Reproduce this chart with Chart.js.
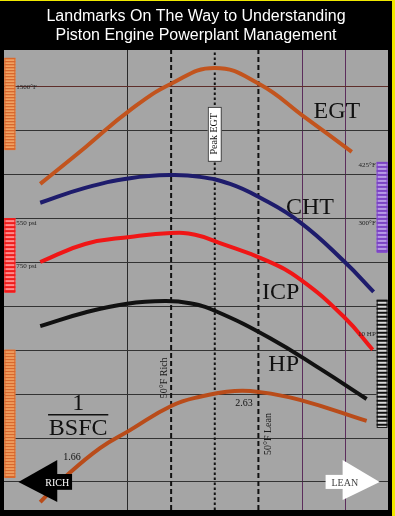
<!DOCTYPE html>
<html>
<head>
<meta charset="utf-8">
<script src="https://cdn.jsdelivr.net/npm/chart.js@4"></script>
<style>
  html, body { margin: 0; padding: 0; background: #000; }
</style>
</head>
<body>
<canvas id="chart" width="395" height="516"></canvas>
<script>
// x = mixture (grid squares from the rich edge, 4 = peak EGT), y = grid squares up from the bottom line
const titleLines = ['Landmarks On The Way to Understanding', 'Piston Engine Powerplant Management'];

const egt  = [[0, 6.79], [1.03, 7.62], [2.06, 8.47], [3.0, 9.07], [4.0, 9.43], [5.01, 9.07], [6.06, 8.31], [7.14, 7.52]];
const cht  = [[0, 6.36], [1.03, 6.70], [2.06, 6.92], [3.0, 6.99], [3.66, 6.95], [4.35, 6.79], [5.01, 6.49], [5.95, 5.92], [6.98, 5.01], [7.64, 4.33]];
const icp  = [[0, 5.01], [1.03, 5.42], [2.06, 5.58], [3.0, 5.67], [3.55, 5.63], [4.12, 5.44], [5.15, 5.06], [5.95, 4.62], [6.98, 3.74], [7.62, 3.01]];
const hp   = [[0, 3.55], [1.03, 3.86], [1.99, 4.06], [2.86, 4.12], [3.43, 4.07], [4.0, 3.90], [5.26, 3.28], [6.41, 2.58], [7.48, 1.89]];
const bsfc = [[0, -0.46], [0.57, 0.11], [1.37, 0.77], [2.06, 1.18], [3.0, 1.73], [3.66, 1.94], [4.46, 2.07], [5.01, 2.05], [5.95, 1.87], [7.48, 1.39]];

// landmark lines: 50°F rich, peak EGT, 50°F lean
const landmarkX = [3, 4, 5];
const landmarkNames = ['50°F Rich', 'Peak EGT', '50°F Lean'];

// values printed on the 1/BSFC curve
const bsfcMarks = [[0.73, 0.55, '1.66'], [4.67, 1.80, '2.63']];

// curve names and where they sit
const curveNames = [['EGT', 6.80, 8.43], ['CHT', 6.18, 6.24], ['ICP', 5.51, 4.31], ['HP', 5.58, 2.67]];

// gauge strip labels
const leftGaugeLabels = [['1500°F', 9.0], ['550 psi', 5.90], ['750 psi', 4.92]];
const rightGaugeLabels = [['425°F', 7.22], ['300°F', 5.90], ['10 HP', 3.37]];

const pts = arr => arr.map(p => ({ x: p[0], y: p[1] }));

function curve(label, data, color) {
  return {
    label, data: pts(data), borderColor: color, borderWidth: 4,
    pointRadius: 0, fill: false, tension: 0.45
  };
}

function landmark(x, dash) {
  return {
    label: 'mark', data: [{ x, y: -0.64 }, { x, y: 9.84 }], borderColor: '#111',
    borderWidth: 2, borderDash: dash, pointRadius: 0, fill: false
  };
}

const near = (v, n) => Math.abs(v - n) < 1e-6;

const decorations = {
  id: 'decorations',
  beforeDraw(chart) {
    const { ctx, chartArea: a, width, height } = chart;
    ctx.save();
    ctx.fillStyle = '#000';
    ctx.fillRect(0, 0, width, height);
    ctx.fillStyle = '#f0e800';
    ctx.fillRect(0, 0, width, 1);
    ctx.fillRect(width - 3, 0, 3, height);
    ctx.fillStyle = '#a5a5a5';
    ctx.fillRect(a.left, a.top, a.right - a.left, a.bottom - a.top);
    ctx.restore();
  },
  afterDatasetsDraw(chart) {
    const ctx = chart.ctx;
    const xs = chart.scales.x, ys = chart.scales.y;
    const X = v => xs.getPixelForValue(v), Y = v => ys.getPixelForValue(v);

    ctx.save();

    // striped gauge strips
    function strip(x0, x1, y0, y1, dark, light, period) {
      const l = X(x0), r = X(x1), t = Y(y0), b = Y(y1);
      ctx.fillStyle = light;
      ctx.fillRect(l, t, r - l, b - t);
      ctx.fillStyle = dark;
      for (let y = t; y < b; y += period) ctx.fillRect(l, y, r - l, Math.min(period / 2, b - y));
      ctx.strokeStyle = dark;
      ctx.lineWidth = 1;
      ctx.strokeRect(l + 0.5, t + 0.5, r - l - 1, b - t - 1);
    }
    strip(-0.82, -0.57, 9.66, 7.56, '#d8682e', '#f4a868', 3);
    strip(-0.82, -0.57, 6.01, 4.31, '#f01c1c', '#ff8a8a', 4);
    strip(-0.82, -0.57, 3.01, 0.09, '#d8682e', '#f4a868', 3);
    strip(7.71, 7.96, 7.29, 5.22, '#7c44c4', '#b79ae6', 4);
    strip(7.71, 7.96, 4.15, 1.23, '#111', '#d8d8d8', 4);

    ctx.fillStyle = '#222';
    ctx.font = '7px "Liberation Serif"';
    ctx.textBaseline = 'middle';
    ctx.textAlign = 'left';
    leftGaugeLabels.forEach(l => ctx.fillText(l[0], X(-0.55), Y(l[1])));
    ctx.textAlign = 'right';
    rightGaugeLabels.forEach(l => ctx.fillText(l[0], X(7.69), Y(l[1])));

    // curve names
    ctx.fillStyle = '#111';
    ctx.textAlign = 'center';
    ctx.font = '24px "Liberation Serif"';
    curveNames.forEach(c => ctx.fillText(c[0], X(c[1]), Y(c[2])));

    // 1 / BSFC
    ctx.fillText('1', X(0.87), Y(1.78));
    ctx.fillText('BSFC', X(0.87), Y(1.21));
    ctx.strokeStyle = '#111';
    ctx.lineWidth = 1.5;
    ctx.beginPath();
    ctx.moveTo(X(0.18), Y(1.53));
    ctx.lineTo(X(1.56), Y(1.53));
    ctx.stroke();

    ctx.font = '10px "Liberation Serif"';
    bsfcMarks.forEach(m => ctx.fillText(m[2], X(m[0]), Y(m[1])));

    // rotated landmark names
    function vtext(txt, x, y) {
      ctx.save();
      ctx.translate(X(x), Y(y));
      ctx.rotate(-Math.PI / 2);
      ctx.fillText(txt, 0, 0);
      ctx.restore();
    }
    ctx.fillStyle = '#1a1a1a';
    vtext(landmarkNames[0], landmarkX[0] - 0.16, 2.37);
    vtext(landmarkNames[2], landmarkX[2] + 0.24, 1.09);

    const bx = X(landmarkX[1]), by = Y(7.93);
    ctx.fillStyle = '#fff';
    ctx.fillRect(bx - 7, by - 27, 14, 55);
    ctx.strokeStyle = '#333';
    ctx.lineWidth = 1;
    ctx.strokeRect(bx - 6.5, by - 26.5, 13, 54);
    ctx.fillStyle = '#111';
    vtext(landmarkNames[1], landmarkX[1], 7.93);

    // RICH arrow
    ctx.fillStyle = '#000';
    ctx.beginPath();
    ctx.moveTo(X(-0.50), Y(0));
    ctx.lineTo(X(0.39), Y(0.50));
    ctx.lineTo(X(0.39), Y(-0.46));
    ctx.closePath();
    ctx.fill();
    ctx.fillRect(X(0), Y(0.18), X(0.73) - X(0), Y(-0.18) - Y(0.18));
    ctx.fillStyle = '#fff';
    ctx.font = '10px "Liberation Serif"';
    ctx.fillText('RICH', X(0.39), Y(0.0) + 1);

    // LEAN arrow
    ctx.fillStyle = '#fff';
    ctx.beginPath();
    ctx.moveTo(X(7.78), Y(0));
    ctx.lineTo(X(6.93), Y(0.50));
    ctx.lineTo(X(6.93), Y(-0.41));
    ctx.closePath();
    ctx.fill();
    ctx.fillRect(X(6.54), Y(0.16), X(6.98) - X(6.54), Y(-0.16) - Y(0.16));
    ctx.fillStyle = '#444';
    ctx.fillText('LEAN', X(6.98), Y(0.0) + 1);

    ctx.restore();
  }
};

new Chart(document.getElementById('chart'), {
  type: 'line',
  data: {
    datasets: [
      curve('EGT', egt, '#c2541e'),
      curve('CHT', cht, '#1e1c6c'),
      curve('ICP', icp, '#f01616'),
      curve('HP', hp, '#111111'),
      curve('1/BSFC', bsfc, '#b94c1a'),
      landmark(landmarkX[0], [5, 3]),
      landmark(landmarkX[1], [2.5, 2.5]),
      landmark(landmarkX[2], [5, 3])
    ]
  },
  options: {
    responsive: false,
    animation: false,
    layout: { padding: { left: 4, right: 7, top: 0, bottom: 6 } },
    plugins: {
      legend: { display: false },
      tooltip: { enabled: false },
      title: {
        display: true,
        text: titleLines,
        color: '#fff',
        font: { family: '"Liberation Sans"', size: 16, weight: 'normal', lineHeight: 1.2 },
        padding: { top: 7, bottom: 4.6 }
      }
    },
    scales: {
      x: {
        type: 'linear', min: -0.83, max: 7.97,
        ticks: { display: false, stepSize: 1 },
        border: { display: false },
        grid: {
          drawTicks: false, lineWidth: 1,
          color: c => {
            const v = c.tick.value;
            if (near(v, 0) || near(v, 2)) return '#2a2a2a';
            if (near(v, 6) || near(v, 7)) return '#5c2d5c';
            return 'rgba(0,0,0,0)';
          }
        }
      },
      y: {
        type: 'linear', min: -0.64, max: 9.84,
        ticks: { display: false, stepSize: 1 },
        border: { display: false },
        grid: {
          drawTicks: false, lineWidth: 1,
          color: c => {
            const v = c.tick.value;
            if (!near(v, Math.round(v))) return 'rgba(0,0,0,0)';
            return near(v, 9) ? '#5e2e2a' : '#333';
          }
        }
      }
    }
  },
  plugins: [decorations]
});
</script>
</body>
</html>
